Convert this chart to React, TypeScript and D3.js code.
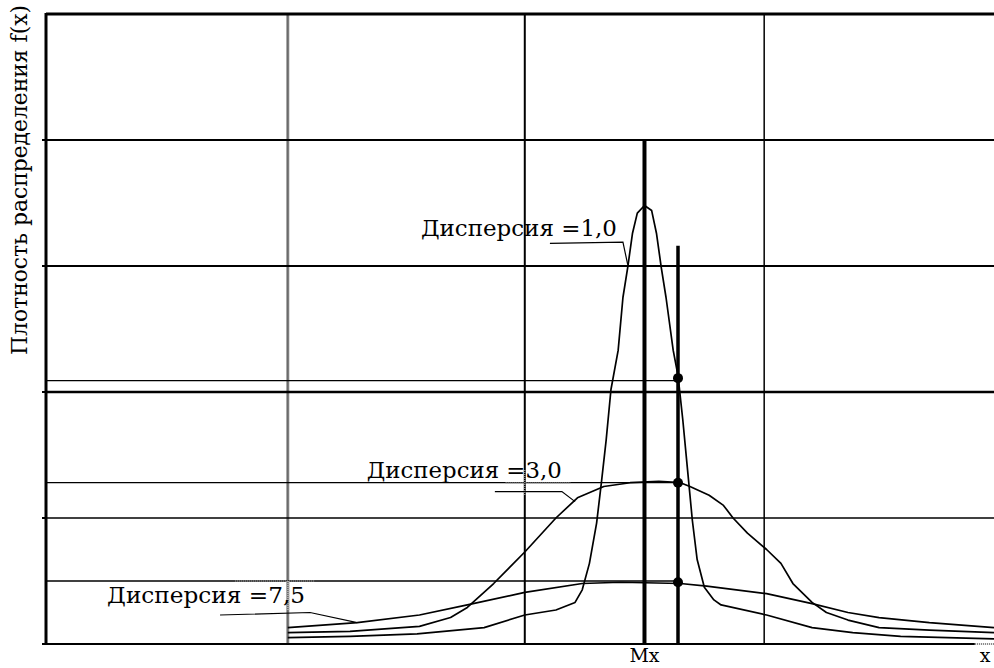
import React from 'react';
import * as d3 from 'd3';

// curves (x in grid cells, y = density units)
const disp10X = [1.01, 1.27, 1.55, 1.83, 2.0, 2.13, 2.21, 2.24, 2.27, 2.3, 2.32, 2.34, 2.36, 2.39, 2.41, 2.43, 2.45, 2.47, 2.5, 2.53, 2.55, 2.57, 2.59, 2.62, 2.64, 2.66, 2.68, 2.7, 2.72, 2.75, 2.79, 2.82, 3.01, 3.2, 3.37, 3.57, 3.96];
const disp10Y = [0.05, 0.06, 0.08, 0.13, 0.23, 0.27, 0.33, 0.43, 0.64, 0.96, 1.28, 1.62, 2.02, 2.33, 2.75, 2.99, 3.26, 3.42, 3.48, 3.44, 3.26, 2.99, 2.75, 2.33, 2.13, 1.78, 1.38, 0.98, 0.67, 0.45, 0.35, 0.31, 0.23, 0.13, 0.09, 0.06, 0.04];

const disp30X = [1.01, 1.27, 1.56, 1.69, 1.76, 1.87, 2.0, 2.13, 2.22, 2.33, 2.44, 2.56, 2.65, 2.69, 2.77, 2.83, 2.87, 2.93, 3.01, 3.07, 3.12, 3.2, 3.26, 3.35, 3.48, 3.69, 3.96];
const disp30Y = [0.09, 0.1, 0.14, 0.21, 0.29, 0.48, 0.73, 1.0, 1.16, 1.25, 1.28, 1.29, 1.28, 1.25, 1.18, 1.1, 1.0, 0.88, 0.75, 0.64, 0.48, 0.33, 0.25, 0.19, 0.13, 0.11, 0.09];

const disp75X = [1.01, 1.3, 1.56, 1.76, 2.0, 2.24, 2.4, 2.65, 2.76, 3.01, 3.2, 3.35, 3.48, 3.69, 3.96];
const disp75Y = [0.13, 0.17, 0.23, 0.31, 0.41, 0.48, 0.49, 0.48, 0.46, 0.4, 0.32, 0.25, 0.21, 0.17, 0.13];

const labels = ['Дисперсия =1,0', 'Дисперсия =3,0', 'Дисперсия =7,5'];
const labelX = [1.566, 1.34, 0.255];
const labelY = [3.24, 1.32, 0.325];
const labelLen = [196, 195, 198];

// leader lines from label to curve
const leader10 = [[2.105, 3.18], [2.41, 3.19], [2.43, 3.01]];
const leader30 = [[1.875, 1.21], [2.155, 1.21], [2.21, 1.13]];
const leader75 = [[0.727, 0.23], [1.103, 0.25], [1.3, 0.17]];

const mx = 2.5;
const xMark = 2.64;
const markTop = 3.16;
const markDots = [2.11, 1.28, 0.49];

const W = 994;
const H = 668;
const serif = 'DejaVu Serif';

export default function App() {
  const x = d3.scaleLinear().domain([0, 3.96]).range([46, 994]);
  const y = d3.scaleLinear().domain([0, 5]).range([644, 14]);

  const line = d3.line<number[]>().x((d) => x(d[0])).y((d) => y(d[1]));
  const toPts = (xs: number[], ys: number[]) => xs.map((v, i) => [v, ys[i]]);

  const hFull = [
    { v: 4, w: 2 },
    { v: 3, w: 2 },
    { v: 2, w: 2.5 },
    { v: 1, w: 1.5 },
  ];
  const hShort = [2.09, 1.28, 0.5];

  return (
    <svg width={W} height={H} style={{ position: 'absolute', left: 0, top: 0, background: '#fff' }}>
      {/* vertical grid */}
      <line x1={x(1.01)} x2={x(1.01)} y1={y(5)} y2={y(0)} stroke="#8a8a8a" strokeWidth={3} />
      <line x1={x(1.01)} x2={x(1.01)} y1={y(5)} y2={y(0)} stroke="#555" strokeWidth={0.8} />
      <line x1={x(2)} x2={x(2)} y1={y(5)} y2={y(0)} stroke="#000" strokeWidth={2} />
      <line x1={x(3)} x2={x(3)} y1={y(5)} y2={y(0)} stroke="#000" strokeWidth={1.5} />

      {/* horizontal grid */}
      {hFull.map((h) => (
        <line key={h.v} x1={x(0)} x2={W} y1={y(h.v)} y2={y(h.v)} stroke="#000" strokeWidth={h.w} />
      ))}
      {hShort.map((v) => (
        <line key={v} x1={x(0)} x2={x(xMark)} y1={y(v)} y2={y(v)} stroke="#000" strokeWidth={1.3} />
      ))}

      {/* ticks on y axis */}
      {[4, 3, 2, 1].map((v) => (
        <line key={v} x1={x(0) - 4} x2={x(0)} y1={y(v)} y2={y(v)} stroke="#000" strokeWidth={2} />
      ))}

      {/* axes frame */}
      <line x1={x(0)} x2={W} y1={y(5)} y2={y(5)} stroke="#000" strokeWidth={3} />
      <line x1={x(0)} x2={x(0)} y1={y(5) - 1} y2={y(0) + 1} stroke="#000" strokeWidth={3} />
      <line x1={x(0) - 4} x2={x(3.88)} y1={y(0)} y2={y(0)} stroke="#000" strokeWidth={2} />
      <line x1={x(3.88)} x2={W} y1={y(0)} y2={y(0)} stroke="#777" strokeWidth={2} strokeDasharray="1,1" />

      {/* Mx and marker verticals */}
      <line x1={x(mx)} x2={x(mx)} y1={y(4)} y2={y(0)} stroke="#000" strokeWidth={4} />
      <line x1={x(xMark)} x2={x(xMark)} y1={y(markTop)} y2={y(0)} stroke="#000" strokeWidth={3.5} />

      {/* curves */}
      {[toPts(disp10X, disp10Y), toPts(disp30X, disp30Y), toPts(disp75X, disp75Y)].map((pts, i) => (
        <path key={i} d={line(pts) || ''} fill="none" stroke="#000" strokeWidth={1.7} strokeLinejoin="round" />
      ))}

      {/* leaders */}
      {[leader10, leader30, leader75].map((pts, i) => (
        <path key={i} d={line(pts) || ''} fill="none" stroke="#000" strokeWidth={1.2} />
      ))}

      {/* text frame remnants */}
      <line x1={x(1.92)} x2={x(2.19)} y1={y(1.28)} y2={y(1.28)} stroke="#888" strokeWidth={1.5} strokeDasharray="1,1" />
      <line x1={x(2)} x2={x(2)} y1={y(1.38)} y2={y(1.18)} stroke="#888" strokeWidth={1.5} strokeDasharray="1,1" />
      <line x1={x(0.79)} x2={x(1.12)} y1={y(0.5)} y2={y(0.5)} stroke="#888" strokeWidth={1.5} strokeDasharray="1,1" />
      <line x1={x(1.01)} x2={x(1.01)} y1={y(0.5)} y2={y(0.27)} stroke="#aaa" strokeWidth={3} strokeDasharray="1,1" />

      {markDots.map((v) => (
        <circle key={v} cx={x(xMark)} cy={y(v)} r={5} fill="#000" />
      ))}

      {labels.map((t, i) => (
        <text
          key={t}
          x={x(labelX[i])}
          y={y(labelY[i])}
          fontSize={23}
          fontFamily={serif}
          textLength={labelLen[i]}
          lengthAdjust="spacingAndGlyphs"
          fill="#000"
        >
          {t}
        </text>
      ))}

      <text x={x(mx)} y={H - 6} textAnchor="middle" fontSize={19} fontFamily={serif}>Mx</text>
      <text x={W - 9} y={H - 6} textAnchor="middle" fontSize={19} fontFamily={serif}>x</text>

      <text
        transform={`translate(27, ${y(5) - 9}) rotate(-90)`}
        textAnchor="end"
        fontSize={22}
        fontFamily={serif}
        textLength={350}
        lengthAdjust="spacingAndGlyphs"
      >
        Плотность распределения f(x)
      </text>
    </svg>
  );
}
